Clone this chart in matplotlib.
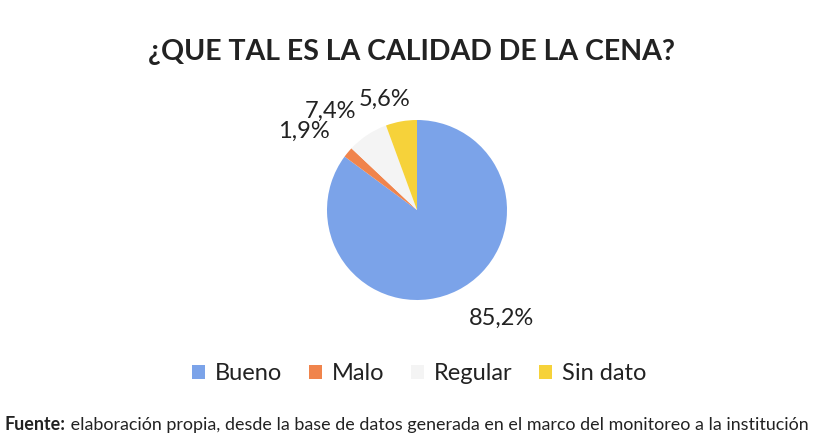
import matplotlib.pyplot as plt
from matplotlib.transforms import offset_copy

categories = ["Bueno", "Malo", "Regular", "Sin dato"]
values = [85.2, 1.9, 7.4, 5.6]
colors = ["#7ba3e9", "#f0844c", "#f4f4f4", "#f6d23a"]
label_xy = [(502, 118), (304, 305), (330, 325), (385, 337)]  # pixel positions, y from bottom

plt.rcParams['font.family'] = ['Lato', 'DejaVu Sans']

fig = plt.figure(figsize=(8.14, 4.36), dpi=100)
ax = fig.add_axes([0, 0, 1, 1])

wedges, texts = ax.pie(values, colors=colors, startangle=90, counterclock=False,
                       center=(417, 226), radius=90, frame=True,
                       labels=[f"{v:.1f}%".replace(".", ",") for v in values],
                       labeldistance=1.2, textprops={'fontsize': 17, 'color': '#222222'})
ax.set_xlim(0, 814)
ax.set_ylim(0, 436)
ax.axis('off')
for t, (x, y) in zip(texts, label_xy):
    t.set_position((x, y))
    t.set_ha('center')
    t.set_va('center')

fig.text(0.505, 0.88, "¿QUE TAL ES LA CALIDAD DE LA CENA?", ha='center', va='center',
         fontsize=20.5, fontweight='bold', color='#222222')

leg = fig.legend(wedges, categories, loc='center', bbox_to_anchor=(0.515, 0.143), ncol=4,
                 frameon=False, fontsize=17, handlelength=0.55, handleheight=0.55,
                 columnspacing=1.15, handletextpad=0.4)
for txt in leg.get_texts():
    txt.set_color('#222222')

# source line: bold "Fuente:" followed by normal text
src1 = fig.text(0.006, 0.006, "Fuente:", fontsize=12.9, fontweight='bold', color='#222222', va='bottom')
fig.canvas.draw()
w = src1.get_window_extent().width
fig.text(0.006, 0.006, " elaboración propia, desde la base de datos generada en el marco del monitoreo a la institución",
         fontsize=12.9, color='#222222', va='bottom',
         transform=offset_copy(fig.transFigure, fig=fig, x=w, y=0, units='dots'))

fig.savefig("out.png", dpi=100)
